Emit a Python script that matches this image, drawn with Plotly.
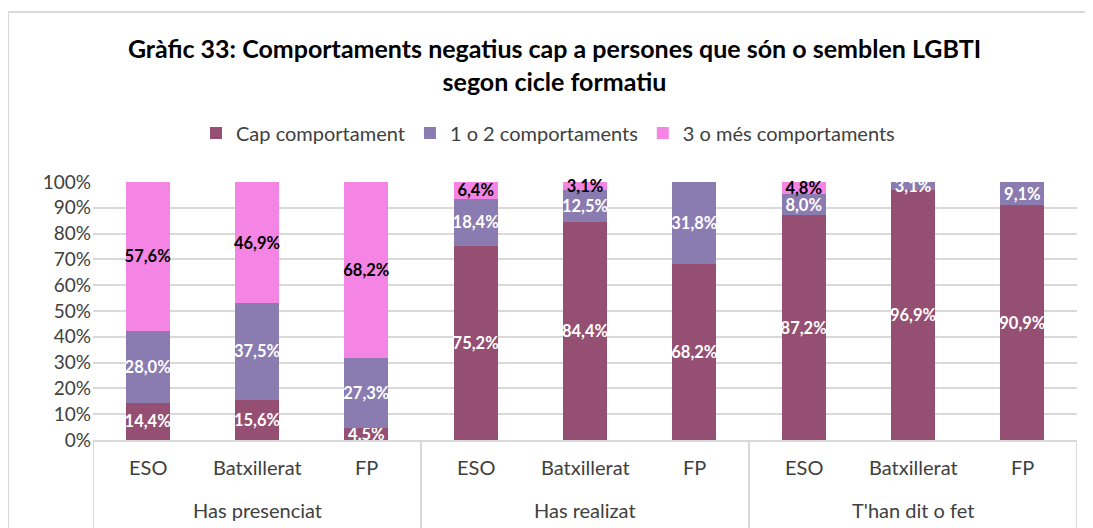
import plotly.graph_objects as go

groups = ["Has presenciat", "Has realizat", "T'han dit o fet"]
cycles = ["ESO", "Batxillerat", "FP"]
series_names = ["Cap comportament", "1 o 2 comportaments", "3 o més comportaments"]
cap = [14.4, 15.6, 4.5, 75.2, 84.4, 68.2, 87.2, 96.9, 90.9]
one_two = [28.0, 37.5, 27.3, 18.4, 12.5, 31.8, 8.0, 3.1, 9.1]
three_plus = [57.6, 46.9, 68.2, 6.4, 3.1, 0.0, 4.8, 0.0, 0.0]
colors = ["#954F72", "#8A7BB1", "#F585E5"]
label_colors = ["white", "white", "black"]

FONT = "Lato"
GRID = "#D9D9D9"
n = len(groups) * len(cycles)
xpos = list(range(n))
tick_text = [c for _ in groups for c in cycles]

# plot area in figure pixels (page adds 8px body offset)
L, R, T, B = 85, 1069, 174, 432
PH = B - T
PW = R - L


def fmt(v):
    return "" if v == 0 else f"{v:.1f}%".replace(".", ",")


fig = go.Figure()
for name, vals, col, lc in zip(series_names, [cap, one_two, three_plus], colors, label_colors):
    fig.add_trace(go.Bar(
        x=xpos, y=vals, name=name, marker=dict(color=col, line=dict(width=0)),
        text=[fmt(v) for v in vals], textposition="inside", insidetextanchor="middle",
        constraintext="none", textangle=0,
        textfont=dict(family=FONT, size=16.5, color=lc, weight="bold"),
        cliponaxis=False,
    ))

fig.update_layout(
    barmode="stack", bargap=0.6,
    width=1093, height=528,
    margin=dict(l=L, r=1093 - R, t=T, b=528 - B),
    paper_bgcolor="white", plot_bgcolor="white",
    font=dict(family=FONT, color="#404040"),
    title=dict(
        text="<b>Gràfic 33: Comportaments negatius cap a persones que són o semblen LGBTI<br>segon cicle formatiu</b>",
        x=0.5, xanchor="center", y=1 - 50 / 528, yanchor="middle", yref="container",
        font=dict(family=FONT, size=25, color="black"),
    ),
    legend=dict(orientation="h", x=(540 - L) / PW, xanchor="center", y=(B - 125) / PH, yanchor="middle",
                font=dict(family=FONT, size=20, color="#404040"), traceorder="normal"),
    showlegend=True,
    yaxis=dict(range=[0, 100], tickvals=list(range(0, 101, 10)),
               ticktext=[f"{v}%" for v in range(0, 101, 10)],
               showgrid=True, gridcolor=GRID, gridwidth=2, zeroline=False,
               showline=False, tickfont=dict(family=FONT, size=19, color="#404040"),
               ticks="", ticklabelstandoff=1, automargin=False),
    xaxis=dict(range=[-0.5, n - 0.5], showticklabels=False, showgrid=False, zeroline=False,
               showline=True, linecolor=GRID, linewidth=2, ticks="", automargin=False),
)

# category labels
for i, t in enumerate(tick_text):
    fig.add_annotation(x=i, xref="x", y=-(459 - B) / PH,
                       yref="paper", text=t, showarrow=False, yanchor="middle",
                       font=dict(family=FONT, size=20, color="#404040"))
for gi, g in enumerate(groups):
    fig.add_annotation(x=gi * len(cycles) + (len(cycles) - 1) / 2, xref="x", y=-(502 - B) / PH,
                       yref="paper", text=g, showarrow=False, yanchor="middle",
                       font=dict(family=FONT, size=20, color="#404040"))
# group dividers
for gi in range(len(groups) + 1):
    fig.add_shape(type="line", xref="x", yref="paper", x0=gi * len(cycles) - 0.5, x1=gi * len(cycles) - 0.5,
                  y0=0, y1=-(540 - B) / PH, line=dict(color=GRID, width=2))
# outer frame
fig.add_shape(type="rect", xref="paper", yref="paper",
              x0=(0 - L) / PW, x1=(1110 - L) / PW, y0=-(560 - B) / PH, y1=(B - 4) / PH,
              line=dict(color=GRID, width=2), layer="below")
fig.write_html("out.html")
